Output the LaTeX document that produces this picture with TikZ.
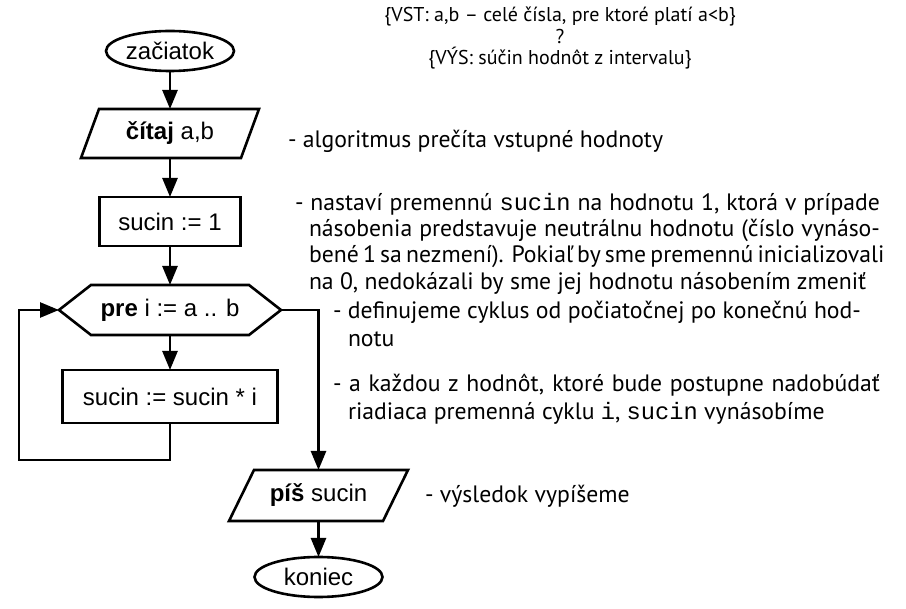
\documentclass[tikz,border=0pt]{standalone}
\usepackage{fontspec}
\setmainfont{PT Sans}
\setmonofont{Liberation Mono}
\newfontfamily\flowfont{Liberation Sans}
\usetikzlibrary{arrows.meta,shapes.geometric,calc}

\begin{document}
\begin{tikzpicture}[x=1pt,y=-1pt,
  every node/.style={inner sep=0pt,outer sep=0pt},
  flowline/.style={line width=2.6pt,line join=miter},
  arr/.style={flowline,-{Triangle[length=19pt,width=15pt]}},
  flowtext/.style={font=\flowfont\fontsize{24}{28}\selectfont},
  terminal/.style={ellipse,draw,flowline,flowtext,minimum width=128pt,minimum height=40pt},
  procbox/.style={rectangle,draw,flowline,flowtext},
  frame/.style={rectangle,flowtext},
  note/.style={anchor=base west,font=\fontsize{23.7}{28}\selectfont},
  headline/.style={anchor=base,font=\fontsize{20}{24}\selectfont}
]
\useasboundingbox (0,0) rectangle (906,609);

% ---- flowchart nodes ----
\node[terminal] (start) at (170,51) {začiatok};
\node[frame,minimum width=178pt,minimum height=49pt] (read) at (170,133.5) {\textbf{čítaj} a,b};
\node[procbox,minimum width=141pt,minimum height=49pt] (init) at (170,221.5) {sucin := 1};
\node[frame,minimum width=222pt,minimum height=50pt] (loop) at (170,310) {\textbf{pre} i := a .. b};
\node[procbox,minimum width=215pt,minimum height=53pt] (body) at (170,396.5) {sucin := sucin * i};
\node[frame,minimum width=179pt,minimum height=51pt] (write) at (318.5,495.5) {\textbf{píš} sucin};
\node[terminal] (stop) at (318.5,577) {koniec};

% parallelogram and hexagon outlines around the frame nodes
\draw[flowline] ($(read.north west)+(18,0)$) -- (read.north east)
  -- ($(read.south east)-(18,0)$) -- (read.south west) -- cycle;
\draw[flowline] ($(write.north west)+(25,0)$) -- (write.north east)
  -- ($(write.south east)-(25,0)$) -- (write.south west) -- cycle;
\draw[flowline] (loop.west) -- ($(loop.north west)+(32,0)$)
  -- ($(loop.north east)-(32,0)$) -- (loop.east)
  -- ($(loop.south east)-(32,0)$) -- ($(loop.south west)+(32,0)$) -- cycle;

% ---- connectors ----
\coordinate (back) at (19,460);
\draw[arr] (start) -- (read);
\draw[arr] (read) -- (init);
\draw[arr] (init) -- (loop);
\draw[arr] (loop) -- (body);
\draw[arr] (body.south) |- (back) |- (loop.west);
\draw[arr] (loop.east) -| (write.north);
\draw[arr] (write) -- (stop);

% ---- specification ----
\node[headline] (spec1) at (560,21.5) {\{VST: a,b – celé čísla, pre ktoré platí a<b\}};
\node[headline] (spec2) at (560,43.5) {?};
\node[headline] (spec3) at (560,65) {\{VÝS: súčin hodnôt z intervalu\}};

% ---- comments ----
\node[note] (c1) at (288,148) {- algoritmus prečíta vstupné hodnoty};
\node[note] (c2a) at (295,211) {\makebox[585pt][s]{- nastaví premennú \texttt{sucin} na hodnotu 1, ktorá v prípade}};
\node[note] (c2b) at (309,236.5) {\makebox[571pt][s]{násobenia predstavuje neutrálnu hodnotu (číslo vynáso-}};
\node[note] (c2c) at (309,263) {\makebox[571pt][s]{bené 1 sa nezmení). Pokiaľ by sme premennú inicializovali}};
\node[note] (c2d) at (309,290) {na 0, nedokázali by sme jej hodnotu násobením zmeniť};
\node[note] (c3a) at (333,319) {- definujeme cyklus od počiatočnej po konečnú hod-};
\node[note] (c3b) at (348,347) {notu};
\node[note] (c4a) at (333,392) {\makebox[547pt][s]{- a každou z hodnôt, ktoré bude postupne nadobúdať}};
\node[note] (c4b) at (348,420) {riadiaca premenná cyklu \texttt{i}, \texttt{sucin} vynásobíme};
\node[note] (c5) at (425,503) {- výsledok vypíšeme};
\end{tikzpicture}
\end{document}
